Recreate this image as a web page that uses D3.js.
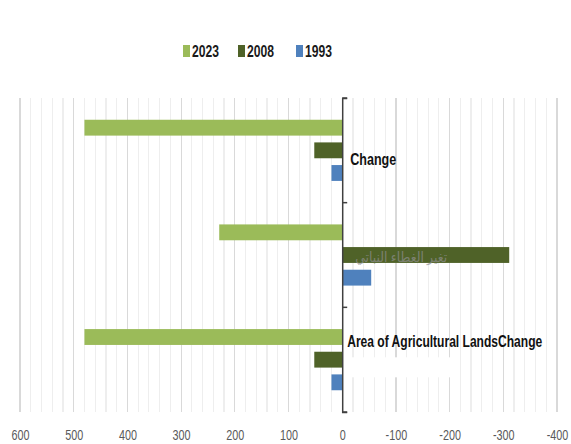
<!DOCTYPE html>
<html><head><meta charset="utf-8">
<script src="https://cdn.jsdelivr.net/npm/d3@7"></script>
<style>body{margin:0;background:#fff}svg{display:block}</style>
</head><body><svg id="c" width="571" height="444"></svg>
<script>
const categories = ["Change", "تغير الغطاء النباتي", "Area of Agricultural LandsChange"];
const seriesNames = ["2023", "2008", "1993"];
const v2023 = [480, 229, 480];
const v2008 = [52, -311, 52];
const v1993 = [20, -54, 20];
const colors = ["#9bbb59", "#4f6228", "#4f81bd"];
const tickValues = [600, 500, 400, 300, 200, 100, 0, -100, -200, -300, -400];

const svg = d3.select("#c");
const L = 20, R = 557, T = 98, B = 412;
const x = d3.scaleLinear().domain([600, -400]).range([L, R]);
const y = d3.scaleBand().domain(categories).range([T, B]);
const ySub = d3.scaleBand().domain(seriesNames).range([0, y.bandwidth()]).paddingOuter(0.96).paddingInner(0.3);

function narrow(sel, f) {
  sel.each(function() {
    const w = this.getComputedTextLength();
    this.setAttribute("textLength", w * f);
    this.setAttribute("lengthAdjust", "spacingAndGlyphs");
  });
}

// gridlines minor/major
const minor = d3.range(-400, 601, 20);
svg.append("g").selectAll("line").data(minor).join("line")
  .attr("x1", d => x(d)).attr("x2", d => x(d)).attr("y1", T).attr("y2", B)
  .attr("stroke", d => d % 100 === 0 ? "#d9d9d9" : "#eeeeee").attr("stroke-width", 1.2)
  .attr("shape-rendering", "crispEdges");

const series = [v2023, v2008, v1993];
series.forEach((vals, si) => {
  svg.append("g").selectAll("rect").data(categories).join("rect")
    .attr("x", (c, i) => Math.min(x(vals[i]), x(0)))
    .attr("width", (c, i) => Math.abs(x(vals[i]) - x(0)))
    .attr("y", c => y(c) + ySub(seriesNames[si]))
    .attr("height", ySub.bandwidth())
    .attr("fill", colors[si]);
});

// axis (category) at zero
const yAxis = d3.axisRight(y).tickSize(5).tickFormat("").tickSizeOuter(5);
const ga = svg.append("g").attr("transform", `translate(${x(0)},0)`).call(yAxis);
ga.select(".domain").attr("stroke", "#404040").attr("stroke-width", 1.5);
ga.selectAll(".tick line").attr("stroke", "#404040").attr("stroke-width", 1.5)
  .attr("transform", `translate(0,${-y.bandwidth()/2})`);
ga.append("line").attr("x1",0).attr("x2",5).attr("y1",B).attr("y2",B).attr("stroke","#404040").attr("stroke-width",1.5);

// x axis labels
const xAxis = d3.axisBottom(x).tickValues(tickValues).tickSize(0).tickPadding(0).tickFormat(d => String(d));
const gx = svg.append("g").attr("transform", `translate(0,429)`).call(xAxis);
gx.select(".domain").remove();
gx.selectAll("text").attr("font-family", "'Liberation Sans',Arial,sans-serif")
  .attr("font-size", 15).attr("fill", "#595959").call(narrow, 0.72);

// category labels
const lab = "'Liberation Sans',Arial,sans-serif";
svg.append("rect").attr("x", x(0) + 3).attr("y", y(categories[2]) + 50).attr("width", 105).attr("height", 20).attr("fill", "#fff");
svg.append("text").attr("x", x(0) + 8).attr("y", y(categories[0]) + 67)
  .attr("font-family", lab).attr("font-weight", "bold").attr("font-size", 16).attr("fill", "#111").text(categories[0])
  .attr("textLength", 46).attr("lengthAdjust", "spacingAndGlyphs");
svg.append("text").attr("x", x(0) + 13).attr("y", y(categories[1]) + 59).attr("text-anchor", "start")
  .attr("font-family", "'Noto Sans','DejaVu Sans',sans-serif").attr("font-size", 14).attr("fill", "#8f8f8f").attr("opacity", 0.7)
  .text(categories[1]).attr("textLength", 92).attr("lengthAdjust", "spacingAndGlyphs");
svg.append("text").attr("x", x(0) + 5).attr("y", y(categories[2]) + 40)
  .attr("font-family", lab).attr("font-weight", "bold").attr("font-size", 16).attr("fill", "#111").text(categories[2])
  .attr("textLength", 195).attr("lengthAdjust", "spacingAndGlyphs");

// legend
const legX = [183, 238, 296];
const lg = svg.append("g");
seriesNames.forEach((s, i) => {
  lg.append("rect").attr("x", legX[i]).attr("y", 45).attr("width", 7).attr("height", 12).attr("fill", colors[i]);
  lg.append("text").attr("x", legX[i] + 9).attr("y", 57).attr("font-family", lab).attr("font-weight", "bold")
    .attr("font-size", 17).attr("fill", "#1a1a1a").text(s).attr("textLength", 27).attr("lengthAdjust", "spacingAndGlyphs");
});
</script></body></html>
